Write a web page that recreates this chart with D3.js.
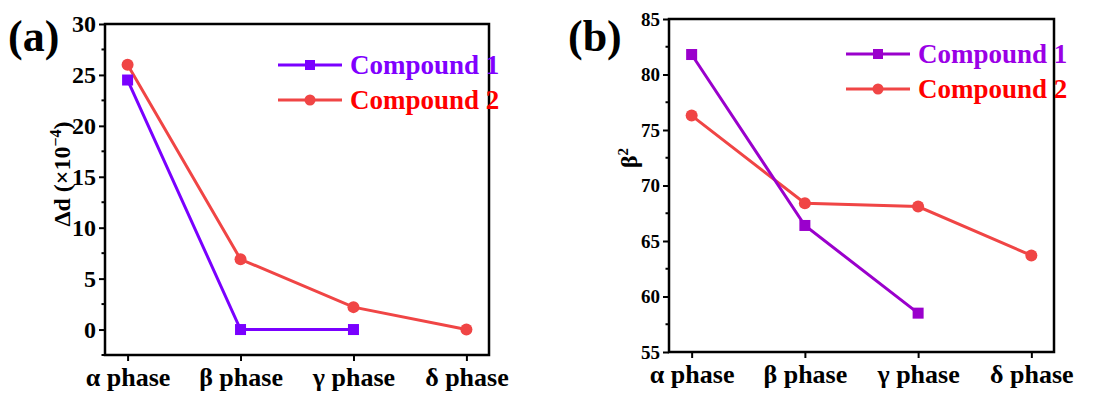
<!DOCTYPE html>
<html>
<head>
<meta charset="utf-8">
<script src="https://cdn.jsdelivr.net/npm/d3@7"></script>
<style>
  body { margin: 0; background: #fff; }
</style>
</head>
<body>
<div id="chart"></div>
<script>
// phases on the x axis
const phases = ["α phase", "β phase", "γ phase", "δ phase"];

// panel (a): Δd (×10^-4)
const dA1 = [24.5, 0, 0];
const dA2 = [26, 6.9, 2.2, 0];
const yTicksA = [0, 5, 10, 15, 20, 25, 30];

// panel (b): β²
const bB1 = [81.8, 66.4, 58.5];
const bB2 = [76.3, 68.4, 68.1, 63.7];
const yTicksB = [55, 60, 65, 70, 75, 80, 85];

const seriesNames = ["Compound 1", "Compound 2"];

const width = 1116, height = 394;
const FONT = '"Liberation Serif"';

const svg = d3.select("#chart").append("svg")
  .attr("width", width).attr("height", height);

// serif bold text helper
function serif(sel, size) {
  return sel.style("font-family", FONT).style("font-weight", "bold").style("font-size", size + "px");
}

function drawPanel(opt) {
  const x = d3.scaleLinear().domain([-0.2, 3.2]).range([opt.left, opt.right]);
  const y = d3.scaleLinear().domain(opt.yDomain).range([opt.bottom, opt.top]);
  const g = svg.append("g");

  // minor ticks
  const minor = d3.range(opt.yDomain[0], opt.yDomain[1] + 0.01, 2.5)
    .filter(v => opt.yTicks.indexOf(v) < 0);
  g.selectAll("line.minor").data(minor).enter().append("line")
    .attr("x1", opt.left - 3.5).attr("x2", opt.left)
    .attr("y1", d => y(d)).attr("y2", d => y(d))
    .attr("stroke", "#000").attr("stroke-width", 2);

  // y axis
  g.append("g")
    .attr("transform", `translate(${opt.left},0)`)
    .call(d3.axisLeft(y).tickValues(opt.yTicks).tickSize(6).tickPadding(3))
    .call(a => a.select(".domain").remove())
    .call(a => a.selectAll("line").attr("stroke-width", 2))
    .call(a => serif(a.selectAll("text"), opt.tickFont).attr("fill", "#000"));

  // x axis
  g.append("g")
    .attr("transform", `translate(0,${opt.bottom})`)
    .call(d3.axisBottom(x).tickValues([0, 1, 2, 3]).tickFormat(i => phases[i]).tickSize(6).tickPadding(7))
    .call(a => a.select(".domain").remove())
    .call(a => a.selectAll("line").attr("stroke-width", 2))
    .call(a => serif(a.selectAll("text"), 26).attr("fill", "#000"));

  // frame
  g.append("rect")
    .attr("x", opt.left).attr("y", opt.top)
    .attr("width", opt.right - opt.left).attr("height", opt.bottom - opt.top)
    .attr("fill", "none").attr("stroke", "#000").attr("stroke-width", 2.5);

  const line = d3.line().x((d, i) => x(i)).y(d => y(d));

  // compound 2 (circles)
  g.append("path").datum(opt.s2).attr("d", line)
    .attr("fill", "none").attr("stroke", opt.c2).attr("stroke-width", 3);
  g.selectAll("circle.s2").data(opt.s2).enter().append("circle")
    .attr("cx", (d, i) => x(i)).attr("cy", d => y(d)).attr("r", 6)
    .attr("fill", opt.c2);

  // compound 1 (squares)
  g.append("path").datum(opt.s1).attr("d", line)
    .attr("fill", "none").attr("stroke", opt.c1).attr("stroke-width", 3);
  g.selectAll("rect.s1").data(opt.s1).enter().append("rect")
    .attr("x", (d, i) => x(i) - 5.5).attr("y", d => y(d) - 5.5)
    .attr("width", 11).attr("height", 11).attr("fill", opt.c1);

  // legend
  const lg = [{ name: seriesNames[0], c: opt.c1, t: opt.t1, sq: true },
              { name: seriesNames[1], c: opt.c2, t: opt.t2, sq: false }];
  lg.forEach((d, i) => {
    const ly = opt.legY + i * 35;
    g.append("line").attr("x1", opt.legX).attr("x2", opt.legX + 64)
      .attr("y1", ly).attr("y2", ly).attr("stroke", d.c).attr("stroke-width", 3);
    if (d.sq) {
      g.append("rect").attr("x", opt.legX + 27).attr("y", ly - 5)
        .attr("width", 10).attr("height", 10).attr("fill", d.c);
    } else {
      g.append("circle").attr("cx", opt.legX + 32).attr("cy", ly).attr("r", 5.5).attr("fill", d.c);
    }
    serif(g.append("text"), 27).attr("x", opt.legX + 72).attr("y", ly + 9)
      .attr("fill", d.t).text(d.name);
  });

  // panel label
  serif(g.append("text"), 44).attr("x", opt.labX).attr("y", 51).text(opt.label);

  // y title
  const yt = serif(g.append("text"), 24)
    .attr("transform", `translate(${opt.titleX},${(opt.titleY)}) rotate(-90)`)
    .attr("text-anchor", "middle");
  opt.title(yt);
}

drawPanel({
  left: 105, right: 489, top: 24, bottom: 355,
  yDomain: [-2.5, 30], yTicks: yTicksA, tickFont: 24,
  s1: dA1, s2: dA2,
  c1: "#7a00ff", c2: "#f04545", t1: "#8000ff", t2: "#ff0000",
  legX: 278, legY: 65, labX: 8, label: "(a)",
  titleX: 70, titleY: 174,
  title: t => {
    t.append("tspan").text("Δd (×10");
    t.append("tspan").attr("dy", -9).style("font-size", "16px").text("−4");
    t.append("tspan").attr("dy", 9).text(")");
  }
});

drawPanel({
  left: 669, right: 1054, top: 19, bottom: 352,
  yDomain: [55, 85], yTicks: yTicksB, tickFont: 19,
  s1: bB1, s2: bB2,
  c1: "#9a00cc", c2: "#f04545", t1: "#9a00e6", t2: "#ff0000",
  legX: 846, legY: 54, labX: 568, label: "(b)",
  titleX: 637, titleY: 158,
  title: t => {
    t.append("tspan").text("β");
    t.append("tspan").attr("dy", -9).style("font-size", "15px").text("2");
  }
});
</script>
</body>
</html>
